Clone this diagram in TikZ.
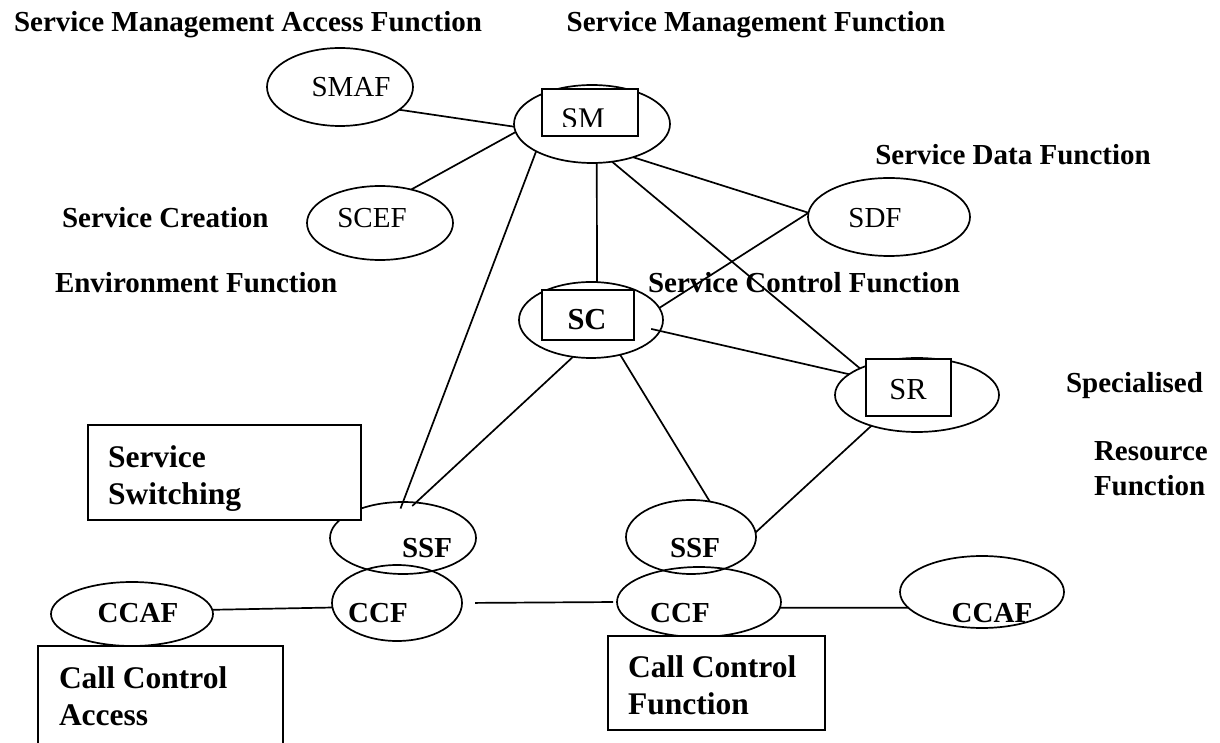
\documentclass[tikz,border=0pt]{standalone}
\usepackage{fontspec}
\setmainfont{Liberation Serif}
\usetikzlibrary{shapes.geometric}

\begin{document}
\begin{tikzpicture}[x=1pt,y=1pt,
  fn/.style={ellipse,draw=drawColor,line width=1.7pt,inner sep=0pt,outer sep=0pt},
  fnbox/.style={rectangle,draw=drawColor,fill=fillColor,line width=1.7pt,inner sep=0pt,outer sep=0pt},
  conn/.style={draw=drawColor,line width=1.7pt,line join=round},
  lbl/.style={text=drawColor,inner sep=0pt,outer sep=0pt,font=\fontsize{29}{33}\selectfont},
  lblbf/.style={lbl,font=\fontsize{29}{33}\selectfont\bfseries},
  boxtext/.style={text=drawColor,inner sep=0pt,outer sep=0pt,align=left,anchor=north west,
    font=\fontsize{31.5}{37}\selectfont\bfseries}]
\definecolor{fillColor}{RGB}{255,255,255}
\definecolor{drawColor}{RGB}{0,0,0}
\path[use as bounding box,fill=fillColor] (0,0) rectangle (1220,742);
\begin{scope}
\path[clip] (0,0) rectangle (1220,742);

% headings
\node[lblbf,anchor=base] (hsmaf) at (248,710) {Service Management Access Function};
\node[lblbf,anchor=base] (hsm) at (756,710) {Service Management Function};
\node[lblbf,anchor=base] (hsdf) at (1013,577) {Service Data Function};
\node[lblbf,anchor=base west] (hscef) at (62,514) {Service Creation};
\node[lblbf,anchor=base west] (hscef2) at (55,449) {Environment Function};
\node[lblbf,anchor=base west] (hsc) at (648,449) {Service Control Function};
\node[lblbf,anchor=base west] (hsr) at (1066,349) {Specialised};
\node[lblbf,anchor=base west] (hsr2) at (1094,281) {Resource};
\node[lblbf,anchor=base west] (hsr3) at (1094,246) {Function};

% function entities
\node[fn,minimum width=146,minimum height=78] (smaf) at (340,655) {};
\node[fn,minimum width=156,minimum height=78] (sm) at (592,618) {};
\node[fn,minimum width=146,minimum height=74] (scef) at (380,519) {};
\node[fn,minimum width=162,minimum height=78] (sdf) at (889,525) {};
\node[fn,minimum width=144,minimum height=76] (sc) at (591,422) {};
\node[fn,minimum width=164,minimum height=74] (sr) at (917,347) {};
\node[fn,minimum width=146,minimum height=72] (ssfA) at (403,204) {};
\node[fn,minimum width=130,minimum height=74] (ssfB) at (691,205) {};
\node[fn,minimum width=130,minimum height=76] (ccfA) at (397,139) {};
\node[fn,minimum width=162,minimum height=64] (ccafA) at (132,128) {};
\node[fn,minimum width=164,minimum height=70] (ccfB) at (699,140) {};
\node[fn,minimum width=164,minimum height=72] (ccafB) at (982,150) {};

\node[lbl] (tsmaf) at (351,655) {SMAF};
\node[lbl] (tscef) at (372,524) {SCEF};
\node[lbl] (tsdf) at (875,524) {SDF};
\node[lblbf] (tssfA) at (427,194) {SSF};
\node[lblbf] (tssfB) at (695,194) {SSF};
\node[lblbf] (tccfA) at (378,129) {CCF};
\node[lblbf] (tccfB) at (680,129) {CCF};
\node[lblbf] (tccafA) at (138,129) {CCAF};
\node[lblbf] (tccafB) at (992,129) {CCAF};

% boxes inside the entities
\node[fnbox,minimum width=96,minimum height=47] (smbox) at (590,629.5) {};
\begin{scope}
\path[clip] (542,615) rectangle (638,653);
\node[lbl,font=\fontsize{30}{34}\selectfont] (tsm) at (583,623) {SM};
\end{scope}
\node[fnbox,minimum width=92,minimum height=50] (scbox) at (588,427) {};
\node[lblbf,font=\fontsize{30.5}{34}\selectfont\bfseries] (tsc) at (587,422) {SC};
\node[fnbox,minimum width=85,minimum height=57] (srbox) at (908.5,354.5) {};
\node[lbl,font=\fontsize{30.5}{34}\selectfont] (tsr) at (908,352) {SR};

% connections
\draw[conn] (smaf.-21) -- (sm.182);
\draw[conn] (scef.47) -- (sm.186);
\draw[conn,shorten >=-7pt] (sm.206) -- (ssfA.90);
\draw[conn] (sm.-83) -- (sc.81);
\draw[conn] (sm.-62) -- (sr.155);
\draw[conn] (sm.-39) -- (sdf.177);
\draw[conn] (sdf.177) -- (sc.10);
\draw[conn,shorten <=-9pt] (sc.-9) -- (sr.163);
\draw[conn,shorten >=-5pt] (sc.-116) -- (ssfA.70);
\draw[conn] (sc.-50) -- (ssfB.62);
\draw[conn] (sr.214) -- (ssfB.4);
\draw[conn] (ccafA.3) -- (ccfA.184);
\draw[conn,shorten <=13pt,shorten >=4pt] (ccfA.east) -- (ccfB.west);
\draw[conn] (ccfB.-4) -- (ccafB.192);

% text boxes
\node[fnbox,minimum width=273,minimum height=95] (ssbox) at (224.5,269.5) {};
\node[boxtext] (tss) at (108,296.4) {Service\\Switching};
\node[fnbox,minimum width=245,minimum height=98] (ccabox) at (160.5,47) {};
\node[boxtext] (tcca) at (59,75.4) {Call Control\\Access};
\node[fnbox,minimum width=217,minimum height=94] (ccfbox) at (716.5,59) {};
\node[boxtext] (tccf) at (628,86.4) {Call Control\\Function};
\end{scope}
\end{tikzpicture}
\end{document}
